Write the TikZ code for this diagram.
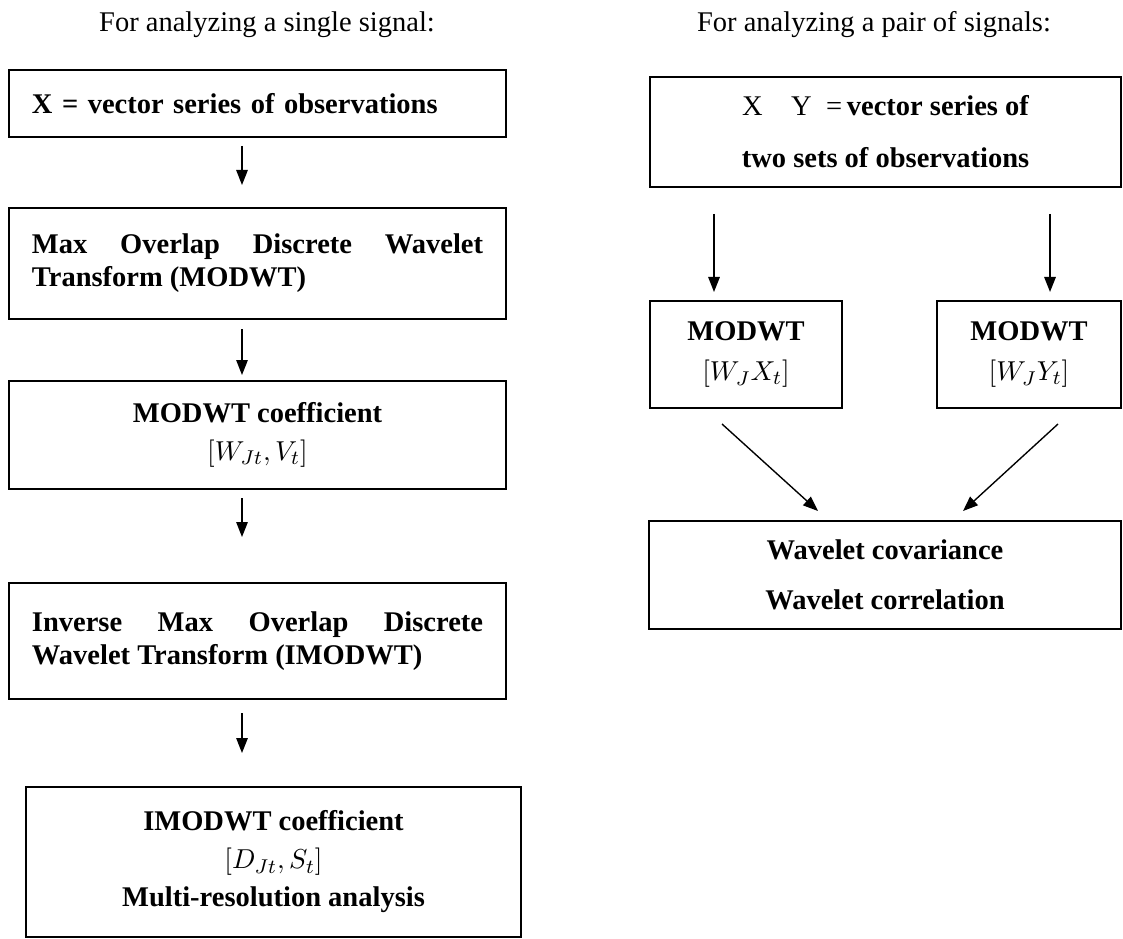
\documentclass[tikz,border=0pt]{standalone}
\usepackage{fontspec}
\setmainfont{Liberation Serif}
\usetikzlibrary{arrows.meta,calc}
\hyphenpenalty=10000
\tolerance=9999

\tikzset{
  box/.style={draw, rectangle, line width=0.8pt,
    font=\bfseries\fontsize{11.4}{13.2}\selectfont},
  txtbox/.style={box, text width=180.4pt, align=justify},
  arr/.style={-{Triangle[length=6pt,width=4.6pt]}, line width=0.55pt},
  title/.style={font=\fontsize{11.4}{13}\selectfont}
}

\begin{document}
\begin{tikzpicture}[x=0.4pt, y=-0.4pt]
\useasboundingbox (0,0) rectangle (1123,938);

% Left side: single signal

\node[title] (titleL) at (267,25) {For analyzing a single signal:};

\node[txtbox, align=left, minimum width=198.8pt, minimum height=26.8pt] (xobs) at (257.5,103.5) {X = vector series of observations};
\node[txtbox, minimum width=198.8pt, minimum height=44.4pt] (modwt) at (257.5,263.5) {Max Overlap Discrete Wavelet Transform (MODWT)};
\node[box, align=center, minimum width=198.8pt, minimum height=43.2pt] (modc) at (257.5,435) {MODWT coefficient\\[2pt] $\bigl[W_{Jt}, V_t\bigr]$};
\node[txtbox, minimum width=198.8pt, minimum height=46.4pt] (imodwt) at (257.5,641) {Inverse Max Overlap Discrete\linebreak Wavelet Transform (IMODWT)};
\node[box, align=center, minimum width=198pt, minimum height=60pt] (imc) at (273.5,862) {IMODWT coefficient\\[2pt] $\bigl[D_{Jt}, S_t\bigr]$\\[2pt] Multi-resolution analysis};

\draw[arr] ($(xobs.south)+(-15.5,8)$) -- ($(modwt.north)+(-15.5,-22)$);
\draw[arr] ($(modwt.south)+(-15.5,9)$) -- ($(modc.north)+(-15.5,-5)$);
\draw[arr] ($(modc.south)+(-15.5,8)$) -- ($(imodwt.north)+(-15.5,-45)$);
\draw[arr] ($(imodwt.south)+(-15.5,13)$) -- ($(imc.north)+(-31.5,-33)$);

% Right side: pair of signals

\node[title] (titleR) at (874,25) {For analyzing a pair of signals:};

\node[box, align=center, minimum width=188.4pt, minimum height=44pt] (xy) at (885.5,132) {{\mdseries X\quad Y\ \ =}\,vector series of\\[7.6pt] two sets of observations};
\node[box, align=center, minimum width=76.8pt, minimum height=42.8pt] (mx) at (746,354.5) {MODWT\\[3pt] $\bigl[W_J X_t\bigr]$};
\node[box, align=center, minimum width=73.6pt, minimum height=42.8pt] (my) at (1029,354.5) {MODWT\\[3pt] $\bigl[W_J Y_t\bigr]$};
\node[box, align=center, minimum width=188.8pt, minimum height=43.2pt] (wc) at (885,575) {Wavelet covariance\\[6.8pt] Wavelet correlation};

\draw[arr] ($(xy.south -| mx.north)+(-32,26)$) -- ($(mx.north)+(-32,-8)$);
\draw[arr] ($(xy.south -| my.north)+(21,26)$) -- ($(my.north)+(21,-8)$);
\draw[arr] ($(mx.south)+(-24,15)$) -- ($(wc.north)+(-67,-9)$);
\draw[arr] ($(my.south)+(29,15)$) -- ($(wc.north)+(78,-9)$);

\end{tikzpicture}
\end{document}
